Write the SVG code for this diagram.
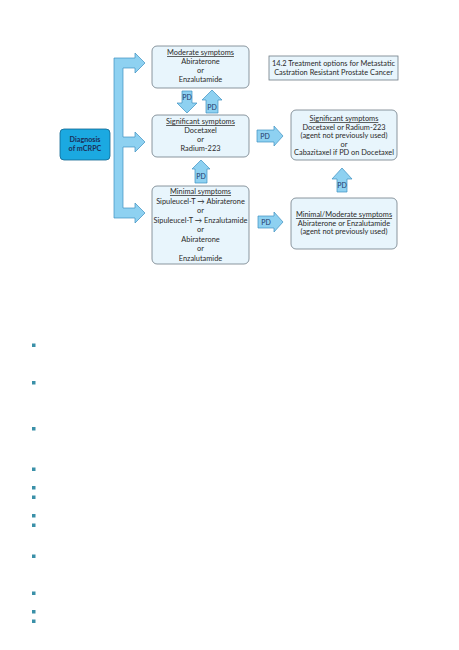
<svg xmlns="http://www.w3.org/2000/svg" width="459" height="650" viewBox="0 0 459 650">
<style>
.box{fill:#e8f5fc;stroke:#6f7c86;stroke-width:0.8}
.arr{fill:#8ed1f1;stroke:#3d8fc0;stroke-width:0.7}
.t{font-family:Lato,"Open Sans",sans-serif;font-size:7.4px;fill:#2a2a2a;text-anchor:middle}
.u{text-decoration:underline}
.pd{font-family:Lato,"Open Sans",sans-serif;font-size:7px;fill:#1e3a6a;text-anchor:middle}
.b{fill:#3a90a8}
</style>
<rect width="459" height="650" fill="#fff"/>
<g id="connectors">
<path class="arr" d="M114,58 L135,58 L135,53 L145,63 L135,73 L135,68 L123,68 L123,137 L135,137 L135,132 L145,142 L135,152 L135,147 L123,147 L123,208 L135,208 L135,203 L145,213 L135,223 L135,218 L114,218 Z"/>
<g id="pd1"><path class="arr" d="M182,91 L192,91 L192,103 L197,103 L187,113 L177,103 L182,103 Z"/><text class="pd" x="187" y="100">PD</text></g>
<g id="pd2"><path class="arr" d="M212,90 L222,100 L218,100 L218,113 L206,113 L206,100 L202,100 Z"/><text class="pd" x="212" y="110">PD</text></g>
<g id="pd3"><path class="arr" d="M201,160 L210,169 L207,169 L207,183 L195,183 L195,169 L192,169 Z"/><text class="pd" x="201" y="179">PD</text></g>
<g id="pd4"><path class="arr" d="M257,130 L274,130 L274,126 L283,136 L274,146 L274,142 L257,142 Z"/><text class="pd" x="265" y="138.5">PD</text></g>
<g id="pd5"><path class="arr" d="M258,216 L274,216 L274,212 L283,222 L274,232 L274,228 L258,228 Z"/><text class="pd" x="266" y="224.5">PD</text></g>
<g id="pd6"><path class="arr" d="M342,168 L352,179 L347,179 L347,192 L337,192 L337,179 L332,179 Z"/><text class="pd" x="342" y="188">PD</text></g>
</g>
<g id="diagnosis">
<rect x="60" y="129" width="50" height="31" rx="4" fill="#1ba9e1" stroke="#0f6690" stroke-width="0.8"/>
<text x="85" y="142" style="font-family:Lato,'Open Sans',sans-serif;font-size:7.2px;font-weight:bold;fill:#1b2f5a;text-anchor:middle">Diagnosis</text>
<text x="85" y="151" style="font-family:Lato,'Open Sans',sans-serif;font-size:7.2px;font-weight:bold;fill:#1b2f5a;text-anchor:middle">of mCRPC</text>
</g>
<g id="moderate">
<rect class="box" x="152" y="46" width="97" height="42" rx="5"/>
<text class="t u" x="200.5" y="55">Moderate symptoms</text>
<text class="t" x="200.5" y="64">Abiraterone</text>
<text class="t" x="200.5" y="73">or</text>
<text class="t" x="200.5" y="82">Enzalutamide</text>
</g>
<g id="significant">
<rect class="box" x="152" y="115" width="97" height="42" rx="5"/>
<text class="t u" x="200.5" y="124">Significant symptoms</text>
<text class="t" x="200.5" y="133">Docetaxel</text>
<text class="t" x="200.5" y="142">or</text>
<text class="t" x="200.5" y="151">Radium-223</text>
</g>
<g id="minimal">
<rect class="box" x="152" y="186" width="97" height="78" rx="5"/>
<text class="t u" x="200.5" y="194">Minimal symptoms</text>
<text class="t" x="200.5" y="203.5">Sipuleucel-T → Abiraterone</text>
<text class="t" x="200.5" y="213">or</text>
<text class="t" x="200.5" y="222.5">Sipuleucel-T → Enzalutamide</text>
<text class="t" x="200.5" y="232">or</text>
<text class="t" x="200.5" y="241.5">Abiraterone</text>
<text class="t" x="200.5" y="251">or</text>
<text class="t" x="200.5" y="260.5">Enzalutamide</text>
</g>
<g id="title">
<rect x="269" y="56" width="129" height="24" fill="#e8f5fc" stroke="#6f7c86" stroke-width="0.8"/>
<text class="t" x="333.5" y="66">14.2 Treatment options for Metastatic</text>
<text class="t" x="333.5" y="75">Castration Resistant Prostate Cancer</text>
</g>
<g id="sig-right">
<rect class="box" x="291" y="110" width="106" height="50" rx="5"/>
<text class="t u" x="344" y="121">Significant symptoms</text>
<text class="t" x="344" y="129.5">Docetaxel or Radium-223</text>
<text class="t" x="344" y="138">(agent not previously used)</text>
<text class="t" x="344" y="146.5">or</text>
<text class="t" x="344" y="155">Cabazitaxel if PD on Docetaxel</text>
</g>
<g id="minmod-right">
<rect class="box" x="291" y="198" width="106" height="51" rx="5"/>
<text class="t u" x="344" y="217">Minimal/Moderate symptoms</text>
<text class="t" x="344" y="225.5">Abiraterone or Enzalutamide</text>
<text class="t" x="344" y="234">(agent not previously used)</text>
</g>
<g id="bullets">
<rect class="b" x="32" y="343.5" width="3.5" height="3.5"/>
<rect class="b" x="32" y="381" width="3.5" height="3.5"/>
<rect class="b" x="32" y="427" width="3.5" height="3.5"/>
<rect class="b" x="32" y="467.5" width="3.5" height="3.5"/>
<rect class="b" x="32" y="486" width="3.5" height="3.5"/>
<rect class="b" x="32" y="495.5" width="3.5" height="3.5"/>
<rect class="b" x="32" y="514" width="3.5" height="3.5"/>
<rect class="b" x="32" y="523.5" width="3.5" height="3.5"/>
<rect class="b" x="32" y="554.5" width="3.5" height="3.5"/>
<rect class="b" x="32" y="591.5" width="3.5" height="3.5"/>
<rect class="b" x="32" y="610" width="3.5" height="3.5"/>
<rect class="b" x="32" y="619.5" width="3.5" height="3.5"/>
</g>
</svg>
